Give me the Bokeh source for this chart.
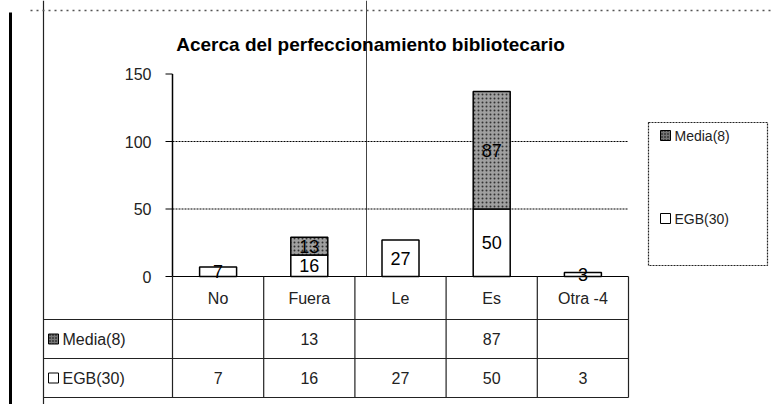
from bokeh.plotting import figure
from bokeh.models import Range1d
from bokeh.core.properties import value
from bokeh.embed import file_html
from bokeh.resources import INLINE

# ---- data ----
title_text = "Acerca del perfeccionamiento bibliotecario"
categories = ["No", "Fuera", "Le", "Es", "Otra -4"]
series_names = ["Media(8)", "EGB(30)"]
media = [0, 13, 0, 87, 0]
egb = [7, 16, 27, 50, 3]
y_ticks = [0, 50, 100, 150]
y_tick_labels = ["0", "50", "100", "150"]
grid_values = [50, 100]

# ---- layout (page pixels -> data coordinates) ----
W, H = 772, 404
OFF = 0            # canvas origin on the page
AX_LEFT = 172      # page x of the value axis
COL_W = 91.2       # page px per category
Y0_PAGE = 276      # page y of value 0
PX_PER_UNIT = 1.35


def px(xp):
    return -0.5 + (xp - AX_LEFT) / COL_W


def py(yp):
    return (Y0_PAGE - yp) / PX_PER_UNIT


X0, X1 = px(OFF), px(OFF + W)
Y1, Y0 = py(OFF), py(OFF + H)

FONT = value("Liberation Sans")
p = figure(width=W, height=H, x_range=Range1d(X0, X1), y_range=Range1d(Y0, Y1),
           output_backend="svg", toolbar_location=None, min_border=0)
p.axis.visible = False
p.grid.visible = False
p.outline_line_color = None
p.background_fill_color = "white"

n = len(categories)
xs = list(range(n))
ymax = y_ticks[-1]

# scan border lines
p.segment(x0=[px(10)], y0=[py(12)], x1=[px(10)], y1=[py(404)], line_color="black", line_width=3)
p.segment(x0=[px(43)], y0=[py(0)], x1=[px(43)], y1=[py(404)], line_color="#222", line_width=1.2)
p.segment(x0=[px(366)], y0=[py(0)], x1=[px(366)], y1=[0], line_color="#444", line_width=1)
p.segment(x0=[px(30)], y0=[py(10)], x1=[px(770)], y1=[py(10)], line_color="#555",
          line_width=1.5, line_dash="2 4")

# gridlines
p.segment(x0=[-0.5] * len(grid_values), y0=grid_values, x1=[n - 0.5] * len(grid_values),
          y1=grid_values, line_color="black", line_width=1.2, line_dash="2 1")

# value axis
p.segment(x0=[-0.5], y0=[0], x1=[-0.5], y1=[ymax], line_color="black", line_width=1.5)
p.segment(x0=[px(165)] * len(y_ticks), y0=y_ticks, x1=[-0.5] * len(y_ticks), y1=y_ticks,
          line_color="black", line_width=1)
p.text(x=[px(151)] * len(y_ticks), y=y_ticks, text=y_tick_labels, text_align="right",
       text_baseline="middle", text_font=FONT, text_font_size="16px", text_color="#222")

# bars
BW = 37 / COL_W
p.vbar(x=xs, bottom=0, top=egb, width=BW, fill_color="white", line_color="black", line_width=1.5)
tops = [a + b for a, b in zip(egb, media)]
mx = [x for x, m in zip(xs, media) if m > 0]
mb = [e for e, m in zip(egb, media) if m > 0]
mt = [t for t, m in zip(tops, media) if m > 0]
mv = [m for m in media if m > 0]
p.vbar(x=mx, bottom=mb, top=mt, width=BW, fill_color="#a0a0a0", line_color="black",
       line_width=1.5, hatch_pattern=".", hatch_color="#333", hatch_scale=4, hatch_weight=1)

# bar labels
p.text(x=xs, y=[e / 2 for e in egb], text=[str(e) for e in egb], text_align="center",
       text_baseline="middle", text_font=FONT, text_font_size="18px", text_color="black")
p.text(x=mx, y=[b + m / 2 for b, m in zip(mb, mv)], text=[str(m) for m in mv],
       text_align="center", text_baseline="middle",
       text_font=FONT, text_font_size="18px", text_color="black")

# title
p.text(x=[px(370)], y=[py(44)], text=[title_text], text_align="center", text_baseline="middle",
       text_font=FONT, text_font_size="19px", text_font_style="bold", text_color="black")

# data table below the chart
row_tops = [276, 319, 358, 397]
ry = [py(v) for v in row_tops]
# horizontal lines
p.segment(x0=[-0.5], y0=[ry[0]], x1=[n - 0.5], y1=[ry[0]], line_color="black", line_width=1.2)
p.segment(x0=[px(43)] * 3, y0=ry[1:], x1=[n - 0.5] * 3, y1=ry[1:], line_color="#222",
          line_width=1.2)
# vertical lines
vx = [i - 0.5 for i in range(n + 1)]
p.segment(x0=vx, y0=[ry[0]] * len(vx), x1=vx, y1=[ry[3]] * len(vx), line_color="#222",
          line_width=1.2)
# header
hy = py((row_tops[0] + row_tops[1]) / 2)
p.text(x=xs, y=[hy] * n, text=categories, text_align="center", text_baseline="middle",
       text_font=FONT, text_font_size="16px", text_color="#222")
# rows
my = py((row_tops[1] + row_tops[2]) / 2)
ey = py((row_tops[2] + row_tops[3]) / 2)
p.text(x=xs, y=[my] * n, text=[str(m) if m else "" for m in media], text_align="center",
       text_baseline="middle", text_font=FONT, text_font_size="16px", text_color="#222")
p.text(x=xs, y=[ey] * n, text=[str(e) for e in egb], text_align="center",
       text_baseline="middle", text_font=FONT, text_font_size="16px", text_color="#222")
# row keys + names
kw, kh = 10 / COL_W, 10 / PX_PER_UNIT
p.rect(x=[px(53)], y=[my], width=kw, height=kh, fill_color="#777", line_color="black",
       hatch_pattern=".", hatch_color="black", hatch_scale=3)
p.rect(x=[px(53)], y=[ey], width=kw, height=kh, fill_color="white", line_color="black")
p.text(x=[px(62)] * 2, y=[my, ey], text=series_names, text_align="left",
       text_baseline="middle", text_font=FONT, text_font_size="16px", text_color="#222")

# legend box
p.quad(left=[px(648)], right=[px(767)], top=[py(122)], bottom=[py(265)], fill_color=None,
       line_color="#222", line_width=1.2, line_dash="2 1")
ly = [py(135), py(218)]
p.rect(x=[px(665)], y=[ly[0]], width=kw, height=kh, fill_color="#777", line_color="black",
       hatch_pattern=".", hatch_color="black", hatch_scale=3)
p.rect(x=[px(665)], y=[ly[1]], width=kw, height=kh, fill_color="white", line_color="black")
p.text(x=[px(674)] * 2, y=ly, text=series_names, text_align="left", text_baseline="middle",
       text_font=FONT, text_font_size="14px", text_color="#222")

open("out.html", "w").write(file_html(p, INLINE))
